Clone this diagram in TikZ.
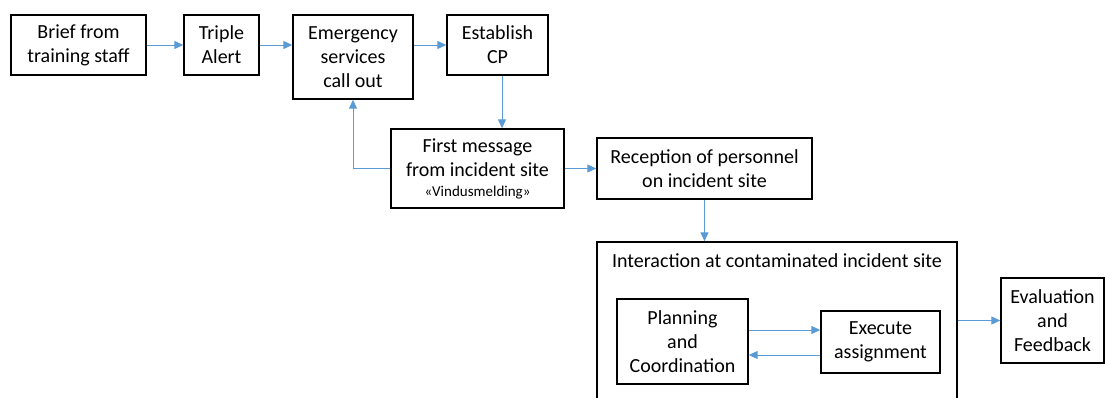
\documentclass[tikz,border=0pt]{standalone}
\usepackage{fontspec}
\setmainfont{Carlito}
\usetikzlibrary{arrows.meta}
\definecolor{flowblue}{HTML}{5B9BD5}
\begin{document}
\begin{tikzpicture}[x=1pt,y=-1pt,
  stepbox/.style={draw=black,line width=1.4pt,rectangle,inner sep=0pt,
    align=center,font=\fontsize{20}{24}\selectfont},
  flow/.style={draw=flowblue,line width=1pt,-{Triangle[length=9pt,width=8pt]}}]
\useasboundingbox (0,0) rectangle (1105,397);

% top row
\node[stepbox,minimum width=135,minimum height=60] (brief) at (78.5,45) {Brief from\\training staff};
\node[stepbox,minimum width=75,minimum height=60] (alert) at (221.5,45) {Triple\\Alert};
\node[stepbox,minimum width=120,minimum height=84] (callout) at (353,57) {Emergency\\services\\call out};
\node[stepbox,minimum width=101,minimum height=60] (cp) at (497.5,45) {Establish\\CP};

% second row
\node[stepbox,minimum width=173,minimum height=79] (first) at (477.5,168.5)
  {First message\\from incident site\\[-4pt]{\fontsize{15}{17}\selectfont «Vindusmelding»}};
\node[stepbox,minimum width=215,minimum height=61] (reception) at (704.5,168.5) {Reception of personnel\\on incident site};

% contaminated site group
\node[stepbox,minimum width=360,minimum height=178] (site) at (777,331) {};
\node[font=\fontsize{20}{24}\selectfont,inner sep=0pt] (sitetitle) at (777,261) {Interaction at contaminated incident site};
\node[stepbox,minimum width=131,minimum height=85] (plan) at (682.5,341.5) {Planning\\and\\Coordination};
\node[stepbox,minimum width=119,minimum height=62] (exec) at (880.5,342) {Execute\\assignment};

% final step
\node[stepbox,minimum width=103,minimum height=85] (eval) at (1052.5,320.5) {Evaluation\\and\\Feedback};

% connectors
\draw[flow] (brief.east) -- (alert.west);
\draw[flow] (alert.east) -- (alert.east -| callout.west);
\draw[flow] (callout.east |- cp.west) -- (cp.west);
\draw[flow] ([xshift=4.5pt]cp.south) -- ([xshift=4.5pt]cp.south |- first.north);
\draw[flow] (first.west) -| (callout.south);
\draw[flow] (first.east) -- (reception.west);
\draw[flow] (reception.south) -- (reception.south |- site.north);
\draw[flow] ([yshift=11.5pt]plan.east) -- ([yshift=11.5pt]plan.east -| exec.west);
\draw[flow] ([yshift=-13pt]exec.west) -- ([yshift=-13pt]exec.west -| plan.east);
\draw[flow] (site.east |- eval.west) -- (eval.west);
\end{tikzpicture}
\end{document}
